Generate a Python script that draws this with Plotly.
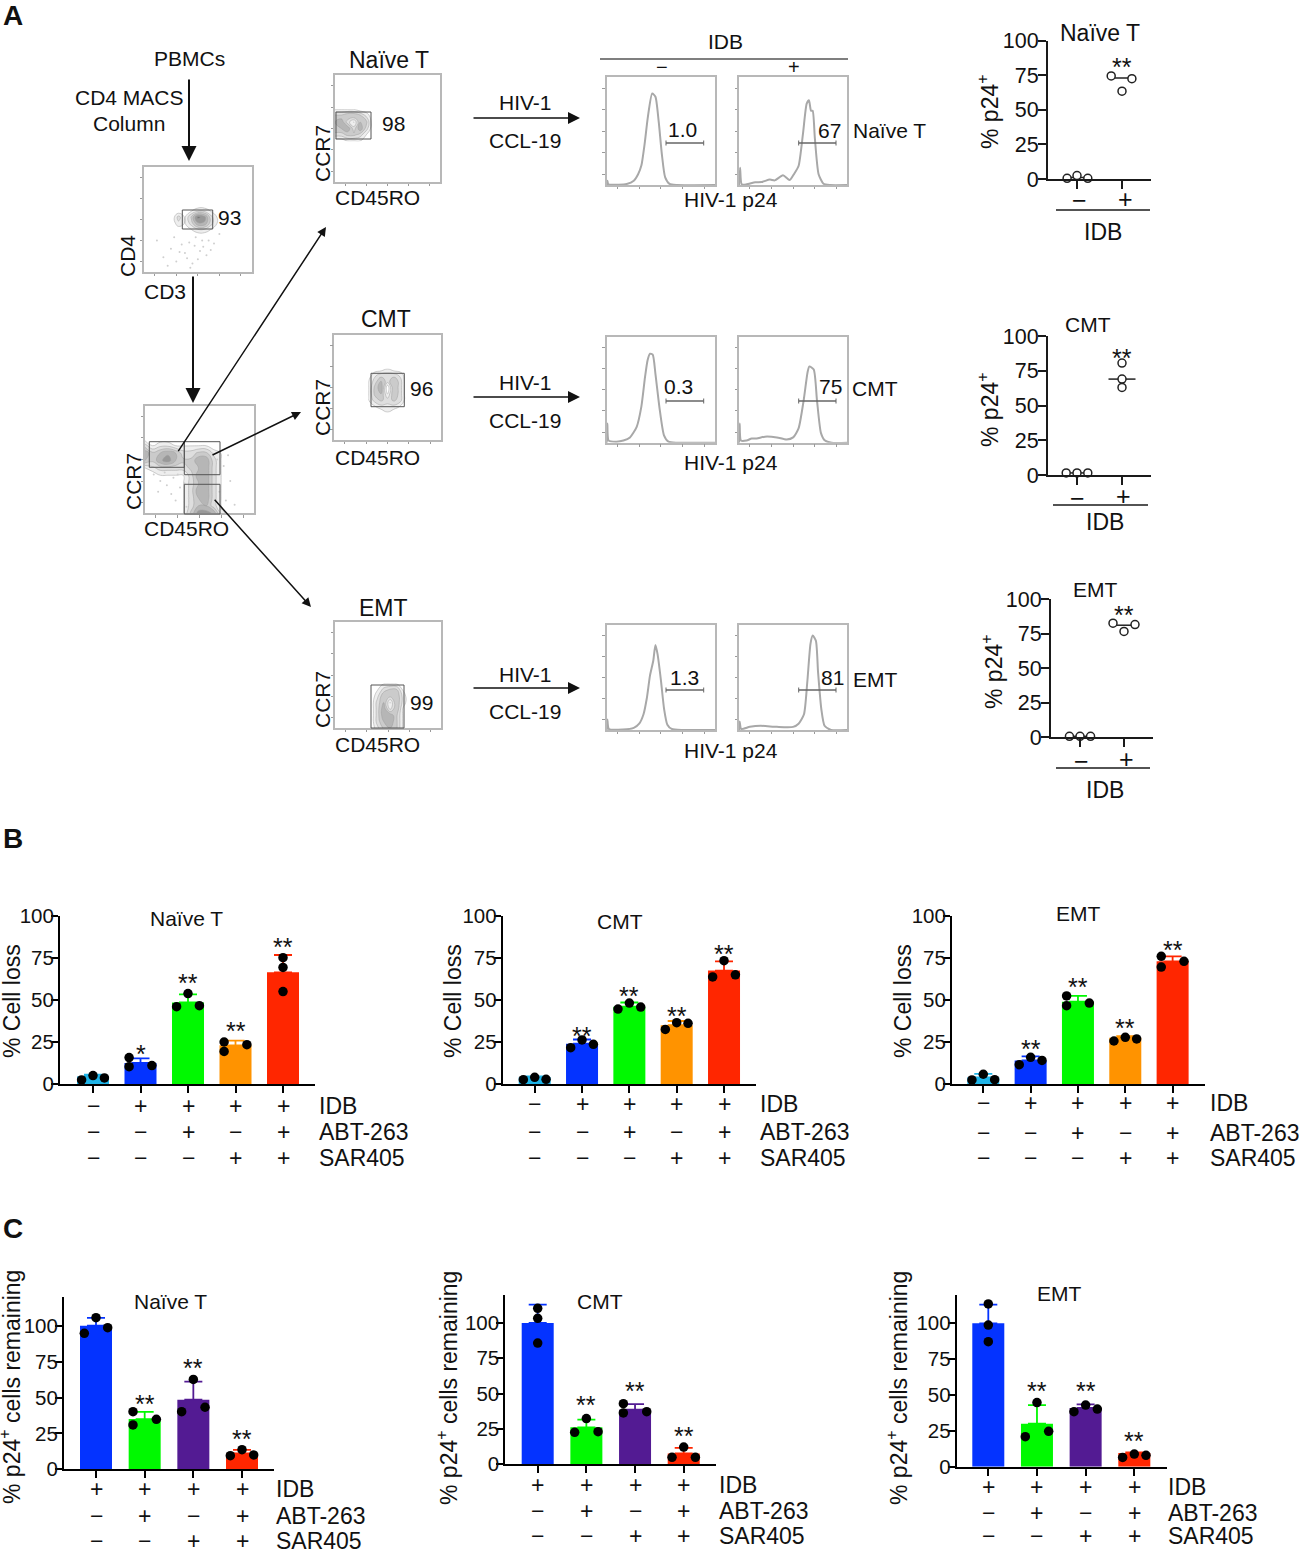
import plotly.graph_objects as go

FIG_W = 1299
FIG_H = 1549
FONT = "Liberation Sans, Arial, sans-serif"

# --- panel A: density plots (grey level on a small grid, % of the plot box)
cd4_x = [20, 26, 32, 38, 44, 50, 56, 62, 68, 74]
cd4_y = [34, 40, 46, 52, 58, 64]
cd4_z = [
    [0, 0, 0, 0, 0, 0, 0, 0, 0, 0],
    [0, 0, 0, 0, 1, 2, 2, 1, 0, 0],
    [0, 0, 2, 1, 3, 6, 6, 3, 1, 0],
    [0, 0, 3, 1, 4, 8, 7, 3, 1, 0],
    [0, 0, 0, 0, 1, 2, 2, 1, 0, 0],
    [0, 0, 0, 0, 0, 0, 0, 0, 0, 0],
]
cd4_sparse_x = [12, 18, 25, 30, 38, 42, 50, 55, 60, 28, 45, 52, 65, 35, 58, 48, 22, 40, 62, 70, 33, 47, 54, 43]
cd4_sparse_y = [30, 14, 22, 10, 18, 28, 12, 24, 30, 33, 8, 20, 27, 26, 16, 33, 6, 13, 21, 36, 19, 25, 30, 4]

gating_x = [0, 7, 14, 21, 28, 35, 42, 49, 56, 63, 70, 77]
gating_y = [0, 7, 14, 21, 28, 35, 42, 49, 56, 63, 70]
gating_z = [
    [0, 0, 0, 0, 0, 1, 4, 7, 7, 6, 2, 0],
    [0, 0, 0, 0, 0, 1, 3, 5, 5, 3, 1, 0],
    [0, 0, 0, 0, 0, 1, 3, 5, 6, 3, 1, 0],
    [0, 0, 0, 0, 1, 1, 3, 6, 6, 3, 1, 0],
    [0, 0, 0, 1, 1, 1, 3, 5, 6, 3, 1, 0],
    [0, 0, 1, 1, 1, 1, 3, 6, 6, 3, 1, 0],
    [1, 2, 3, 3, 3, 3, 4, 5, 6, 3, 1, 0],
    [5, 4, 6, 7, 5, 4, 4, 6, 6, 3, 1, 0],
    [6, 4, 5, 6, 5, 3, 3, 4, 4, 2, 1, 0],
    [3, 1, 2, 2, 1, 1, 1, 1, 1, 0, 0, 0],
    [0, 0, 0, 0, 0, 0, 0, 0, 0, 0, 0, 0],
]
gating_sparse_x = [8, 14, 20, 26, 32, 12, 24, 36, 18, 30, 40, 66, 72, 78, 68, 74, 82, 64, 76, 70, 38, 28]
gating_sparse_y = [36, 30, 26, 33, 24, 20, 18, 28, 38, 36, 14, 50, 44, 30, 20, 12, 8, 36, 54, 4, 6, 12]

naive_x = [0, 6, 12, 18, 24, 30, 36]
naive_y = [38, 44, 50, 56, 62, 68]
naive_z = [
    [0, 0, 1, 1, 1, 0, 0],
    [3, 3, 4, 4, 3, 1, 0],
    [5, 5, 6, 3, 6, 3, 0],
    [5, 6, 3, 1, 5, 4, 0],
    [4, 4, 5, 5, 4, 2, 0],
    [1, 1, 1, 1, 0, 0, 0],
]
cmt_x = [32, 38, 44, 50, 56, 62, 68]
cmt_y = [26, 32, 38, 44, 50, 56, 62, 68]
cmt_z = [
    [0, 0, 0, 1, 0, 0, 0],
    [0, 1, 2, 2, 2, 1, 0],
    [1, 3, 4, 3, 4, 3, 0],
    [1, 4, 5, 1, 5, 3, 0],
    [1, 4, 6, 0, 5, 3, 0],
    [1, 3, 5, 3, 5, 3, 0],
    [0, 2, 3, 3, 3, 2, 0],
    [0, 0, 0, 1, 0, 0, 0],
]
emt_x = [34, 40, 46, 52, 58, 64, 70]
emt_y = [0, 6, 12, 18, 24, 30, 36, 42]
emt_z = [
    [0, 2, 4, 5, 4, 1, 0],
    [0, 3, 5, 6, 4, 1, 0],
    [0, 3, 6, 6, 4, 1, 0],
    [0, 3, 6, 2, 5, 1, 0],
    [0, 3, 5, 1, 5, 2, 0],
    [0, 2, 5, 4, 5, 2, 0],
    [0, 1, 3, 4, 4, 1, 0],
    [0, 0, 1, 1, 1, 0, 0],
]

# --- panel A: p24 histograms (% of the plot box)
hist_naive_neg_x = [0, 0.6, 1.5, 11, 18.5, 25, 29, 32, 35, 38, 42, 45, 48, 51, 54, 58, 65, 100]
hist_naive_neg_y = [0, 4, 0.6, 0.3, 1, 4, 10, 18, 38, 63, 85, 82, 59, 28, 7, 1, 0, 0]
hist_naive_pos_x = [0, 1, 2.5, 7, 15, 21, 28.5, 33, 40.6, 46.8, 51, 55, 59, 62.5, 64.6, 66.5, 68, 70, 73.5, 78, 84, 100]
hist_naive_pos_y = [0, 16, 0.6, 0.6, 2.5, 2.8, 5, 4.3, 9, 4.6, 10.5, 17.6, 47, 75.5, 78.6, 69, 69, 44, 10, 1.2, 0, 0]
hist_cmt_neg_x = [0, 0.6, 1.8, 9, 15.4, 21.5, 27.7, 32, 35.4, 37.8, 40, 42.5, 45, 49, 52.9, 57, 65, 100]
hist_cmt_neg_y = [0, 18, 2, 1, 2, 5, 15, 34, 62, 78, 84, 83, 65, 31, 7, 1, 0, 0]
hist_cmt_pos_x = [0, 0.6, 1.8, 7, 11.7, 16.3, 24, 35, 44, 50, 55, 59.7, 63.4, 65, 69, 72, 75.7, 79.4, 85.5, 100]
hist_cmt_pos_y = [0, 18, 2, 2, 4, 4, 5.7, 5, 3, 5, 13.5, 40, 67, 72, 69, 40, 9, 2, 0, 0]
hist_emt_neg_x = [0, 0.6, 2, 15, 25, 30, 34, 37, 40, 43, 45, 47, 50, 53, 56, 60, 70, 100]
hist_emt_neg_y = [0, 10, 1, 0.5, 2, 6, 15, 30, 52, 66, 81, 72, 48, 20, 5, 1, 0, 0]
hist_emt_pos_x = [0, 0.6, 2, 10, 20, 35, 50, 55, 60, 63, 66, 68, 71, 73, 76, 79, 85, 100]
hist_emt_pos_y = [0, 8, 1, 3, 4, 3, 3, 6, 15, 45, 82, 90, 85, 55, 20, 4, 0, 0]

# --- panel A: % p24+ dot plots
p24_naive_neg = [0.5, 2.5, 0.5]
p24_naive_pos = [74.5, 72.5, 63.5]
p24_naive_mean = [1, 73]
p24_cmt_neg = [1.5, 1.5, 1.5]
p24_cmt_pos = [80.5, 69, 63]
p24_cmt_mean = [1.5, 69]
p24_emt_neg = [0.5, 0.5, 0.5]
p24_emt_pos = [82.5, 81.5, 76.5]
p24_emt_mean = [0.5, 81]
p24_jitter = [-0.24, 0.0, 0.24]

# --- panels B and C: bars
loss_colors = ["#1FB4E8", "#0433FF", "#00F900", "#FF9300", "#FF2600"]
rem_colors = ["#0433FF", "#00F900", "#531B93", "#FF2600"]
loss_idb = ["−", "+", "+", "+", "+"]
loss_abt = ["−", "−", "+", "−", "+"]
loss_sar = ["−", "−", "−", "+", "+"]
rem_idb = ["+", "+", "+", "+"]
rem_abt = ["−", "+", "−", "+"]
rem_sar = ["−", "−", "+", "+"]

loss_naive_mean = [4.5, 12.5, 48.5, 23, 66.5]
loss_naive_top = [5.5, 15.3, 53.4, 25.8, 76.8]
loss_naive_dots = [[2.4, 5, 3.6], [15.7, 10.3, 11], [46, 53.8, 46.6], [25, 19.4, 23.4], [75.2, 69.4, 55]]
loss_naive_side = [[-1, 0, 1], [-1, -1, 1], [-1, 0, 1], [-1, -1, 1], [0, 0, 0]]
loss_naive_stars = ["", "*", "**", "**", "**"]
loss_naive_star_y = [0, 19, 61.5, 33, 82.7]

loss_cmt_mean = [4, 24, 46, 35, 67.5]
loss_cmt_top = [4.5, 26.5, 48.5, 37.5, 73]
loss_cmt_dots = [[2.6, 4, 2.8], [21.6, 26.2, 23.6], [44.6, 48.2, 45.8], [32.5, 36.5, 36.1], [63.7, 73.4, 65]]
loss_cmt_side = [[-1, 0, 1], [-1, 0, 1], [-1, 0, 1], [-1, 0, 1], [-1, 0, 1]]
loss_cmt_stars = ["", "**", "**", "**", "**"]
loss_cmt_star_y = [0, 30, 53.4, 41.7, 78.4]

loss_emt_mean = [4, 14, 49, 27.5, 73]
loss_emt_top = [6, 16.5, 52.5, 28.5, 76]
loss_emt_dots = [[2.4, 5.8, 2.6], [11.5, 15.9, 14], [52.4, 46.6, 48.2], [25.6, 27.8, 26.8], [76, 69.6, 73]]
loss_emt_side = [[-1, 0, 1], [-1, 0, 1], [-1, -1, 1], [-1, 0, 1], [-1, -1, 1]]
loss_emt_stars = ["", "**", "**", "**", "**"]
loss_emt_star_y = [0, 21.8, 59, 34.5, 81]

rem_naive_mean = [100, 35, 48.5, 11]
rem_naive_top = [105.5, 40, 61, 13.5]
rem_naive_dots = [[94.7, 105.6, 98.6], [30.9, 40.1, 34.8], [40.1, 62.6, 43.2], [9.5, 13.7, 10]]
rem_naive_side = [[-1, 0, 1], [-1, -1, 1], [-1, 0, 1], [-1, 0, 1]]
rem_naive_stars = ["", "**", "**", "**"]
rem_naive_star_y = [0, 47, 72, 22.3]

rem_cmt_mean = [100, 26, 38.5, 7.5]
rem_cmt_top = [113, 31.5, 42.5, 11.5]
rem_cmt_dots = [[110.4, 103.3, 85.8], [22.5, 32.2, 22.9], [42.8, 36.2, 37.1], [4.7, 12, 4.7]]
rem_cmt_side = [[0, 0, 0], [-1, 0, 1], [-1, -1, 1], [-1, 0, 1]]
rem_cmt_stars = ["", "**", "**", "**"]
rem_cmt_star_y = [0, 43, 53, 21]

rem_emt_mean = [100, 30, 41, 9.5]
rem_emt_top = [113, 43, 43.5, 10]
rem_emt_dots = [[113.5, 98.8, 87.2], [20.9, 44.7, 24.7], [38.4, 43, 40.2], [6.5, 8.8, 7.9]]
rem_emt_side = [[0, 0, 0], [-1, 0, 1], [-1, 0, 1], [-1, 0, 1]]
rem_emt_stars = ["", "**", "**", "**"]
rem_emt_star_y = [0, 54, 54, 19]

GREYS = [[0, "#ffffff"], [0.12, "#f2f2f2"], [0.4, "#d8d8d8"], [0.75, "#acacac"], [1, "#747474"]]
AXIS_INK = "#1a1a1a"
FLOW_EDGE = "#b8b8b8"

fig = go.Figure()
axis_count = 1


def px_x(px):
    return px / FIG_W


def px_y(py):
    return 1 - py / FIG_H


def label(px, py, text, size=21, angle=0, anchor="center", bold=False):
    fig.add_annotation(
        x=px_x(px), y=px_y(py), xref="paper", yref="paper", text=f"<b>{text}</b>" if bold else text,
        showarrow=False, xanchor=anchor, yanchor="middle", textangle=angle,
        font=dict(family=FONT, size=size, color="#111111"),
    )


def arrow(x0, y0, x1, y1, width=1.5, size=1.2):
    fig.add_annotation(
        x=px_x(x1), y=px_y(y1), xref="paper", yref="paper", ax=x0 - x1, ay=y0 - y1,
        text="", showarrow=True, arrowhead=2, arrowsize=size, arrowwidth=width,
        arrowcolor="#111111", standoff=0,
    )


def rule(x0, y0, x1, y1, color="#1a1a1a", width=1.5):
    fig.add_shape(
        type="line", xref="paper", yref="paper", x0=px_x(x0), y0=px_y(y0), x1=px_x(x1), y1=px_y(y1),
        line=dict(color=color, width=width),
    )


def gate(x0, y0, x1, y1):
    fig.add_shape(
        type="rect", xref="paper", yref="paper", x0=px_x(x0), y0=px_y(y0), x1=px_x(x1), y1=px_y(y1),
        line=dict(color="#555555", width=1),
    )


def new_axes(left, right, top, bottom, xrange, yrange, xopts, yopts):
    global axis_count
    axis_count += 1
    n = axis_count
    fig.layout[f"xaxis{n}"] = dict(
        domain=[px_x(left), px_x(right)], range=xrange, anchor=f"y{n}", showgrid=False, zeroline=False, **xopts
    )
    fig.layout[f"yaxis{n}"] = dict(
        domain=[px_y(bottom), px_y(top)], range=yrange, anchor=f"x{n}", showgrid=False, zeroline=False, **yopts
    )
    return f"x{n}", f"y{n}"


def flow_axes(left, right, top, bottom):
    opts = dict(
        showline=True, mirror=True, linecolor=FLOW_EDGE, linewidth=1.5, ticks="outside", ticklen=2.5,
        tickcolor="#9a9a9a", tickwidth=1, showticklabels=False, dtick=20, tick0=10,
    )
    return new_axes(left, right, top, bottom, [0, 100], [0, 100], opts, opts)


def density_plot(box, grid_x, grid_y, grid_z, sparse_x=None, sparse_y=None):
    xa, ya = flow_axes(*box)
    if sparse_x:
        fig.add_trace(go.Scatter(
            x=sparse_x, y=sparse_y, xaxis=xa, yaxis=ya, mode="markers", hoverinfo="skip",
            marker=dict(size=2, color="#cfcfcf"),
        ))
    fig.add_trace(go.Contour(
        x=grid_x, y=grid_y, z=grid_z, xaxis=xa, yaxis=ya, zmin=0, zmax=9,
        contours=dict(coloring="fill", start=1.1, end=8, size=1.3),
        line=dict(color="#9e9e9e", width=0.5, smoothing=1.3),
        colorscale=GREYS, showscale=False, hoverinfo="skip",
    ))


def histogram_plot(box, hist_x, hist_y):
    xa, ya = flow_axes(*box)
    fig.add_trace(go.Scatter(
        x=hist_x, y=hist_y, xaxis=xa, yaxis=ya, mode="lines", hoverinfo="skip",
        line=dict(color="#a8a8a8", width=2, shape="spline", smoothing=0.6),
    ))


def dot_plot(left, right, y100, y0, c0, step, neg, pos, jitter_neg, jitter_pos, mean, stars_y):
    ticks = dict(
        showline=True, linecolor=AXIS_INK, linewidth=2, ticks="outside", ticklen=8, tickwidth=2,
        tickcolor=AXIS_INK, tickfont=dict(family=FONT, size=21.5, color="#111111"), ticklabelstandoff=-5,
    )
    xa, ya = new_axes(
        left, right, y100, y0, [(left - c0) / step, (right - c0) / step], [0, 100],
        dict(tickvals=[0, 1], showticklabels=False, **ticks), dict(tickvals=[0, 25, 50, 75, 100], **ticks),
    )
    for i, half in enumerate([0.3, 0.3]):
        fig.add_trace(go.Scatter(
            x=[i - half, i + half], y=[mean[i], mean[i]], xaxis=xa, yaxis=ya, mode="lines",
            line=dict(color="#222222", width=1.5), hoverinfo="skip", cliponaxis=False,
        ))
    fig.add_trace(go.Scatter(
        x=[j for j in jitter_neg] + [1 + j for j in jitter_pos], y=neg + pos, xaxis=xa, yaxis=ya,
        mode="markers", cliponaxis=False, hoverinfo="skip",
        marker=dict(size=8, color="#ffffff", line=dict(color="#222222", width=1.5)),
    ))
    fig.add_annotation(
        x=1, y=stars_y, xref=xa, yref=ya, text="**", showarrow=False, yshift=-3,
        font=dict(family=FONT, size=25, color="#111111"),
    )


def bar_panel(left, right, y100, y0, centre0, step, top_value, means, tops, dots, sides, stars, stars_y, colors):
    top_px = y0 - top_value * (y0 - y100) / 100
    ticks = dict(
        showline=True, linecolor="#000000", linewidth=2, ticks="outside", ticklen=7, tickwidth=2,
        tickcolor="#000000", tickfont=dict(family=FONT, size=20.5, color="#111111"), ticklabelstandoff=-7,
    )
    xa, ya = new_axes(
        left, right, top_px, y0, [(left - centre0) / step, (right - centre0) / step], [0, top_value],
        dict(tickvals=list(range(len(means))), showticklabels=False, **ticks),
        dict(tickvals=[0, 25, 50, 75, 100], **ticks),
    )
    for i, m in enumerate(means):
        fig.add_trace(go.Bar(
            x=[i], y=[m], xaxis=xa, yaxis=ya, width=32 / step, marker=dict(color=colors[i], line=dict(width=0)),
            hoverinfo="skip",
            error_y=dict(type="data", array=[tops[i] - m], symmetric=False, arrayminus=[0], color=colors[i], width=9, thickness=1.8),
        ))
        fig.add_trace(go.Scatter(
            x=[i + 0.24 * s for s in sides[i]], y=dots[i], xaxis=xa, yaxis=ya, mode="markers",
            cliponaxis=False, hoverinfo="skip", marker=dict(size=9.5, color="#000000"),
        ))
        if stars[i]:
            fig.add_annotation(
                x=i, y=stars_y[i], xref=xa, yref=ya, text=stars[i], showarrow=False, yshift=-2,
                font=dict(family=FONT, size=25, color="#111111"),
            )
    return xa


def sign_rows(xa, rows_px, signs, names, name_x):
    for row_y, row_signs, name in zip(rows_px, signs, names):
        for i, s in enumerate(row_signs):
            fig.add_annotation(
                x=i, y=px_y(row_y), xref=xa, yref="paper", text=s, showarrow=False, yanchor="middle",
                font=dict(family=FONT, size=23, color="#111111"),
            )
        label(name_x, row_y, name, size=23, anchor="left")


# panel letters
label(1, 15, "A", size=28, anchor="left", bold=True)
label(1, 838, "B", size=28, anchor="left", bold=True)
label(1, 1228, "C", size=28, anchor="left", bold=True)

# gating tree
label(189, 58, "PBMCs")
label(129, 97, "CD4 MACS")
label(129, 123, "Column")
arrow(189, 78, 189, 161, width=2, size=1.5)
density_plot((144, 251.7, 166.7, 272), cd4_x, cd4_y, cd4_z, cd4_sparse_x, cd4_sparse_y)
gate(182.3, 210, 212.7, 229)
label(229, 218, "93")
label(127, 256, "CD4", angle=-90)
label(165, 292, "CD3")
arrow(193, 275, 193, 403, width=2, size=1.5)

density_plot((145, 254.3, 405.7, 513.3), gating_x, gating_y, gating_z, gating_sparse_x, gating_sparse_y)
gate(149.3, 441.7, 184.3, 467.3)
gate(184.3, 441.7, 220, 474.7)
gate(184.3, 484.3, 220, 514)
label(133, 482, "CCR7", angle=-90)
label(187, 528, "CD45RO")
arrow(177.3, 452.7, 326, 227)
arrow(211, 455.7, 301, 412)
arrow(213.3, 498.3, 311, 607)

density_plot((335, 440, 75, 182), naive_x, naive_y, naive_z)
gate(336, 112, 371, 139)
label(389, 60, "Naïve T", size=23)
label(322, 154, "CCR7", angle=-90)
label(377, 197, "CD45RO")
label(393, 124, "98")

density_plot((334.3, 440.7, 335, 440), cmt_x, cmt_y, cmt_z)
gate(371, 373.3, 404.3, 406.7)
label(386, 319, "CMT", size=23)
label(322, 408, "CCR7", angle=-90)
label(377, 457, "CD45RO")
label(421, 389, "96")

density_plot((335, 441, 622, 728), emt_x, emt_y, emt_z)
gate(371, 685, 404, 728)
label(383, 608, "EMT", size=23)
label(322, 700, "CCR7", angle=-90)
label(377, 745, "CD45RO")
label(421, 703, "99")

for row_hiv, row_ccl, row_arrow in [(103, 141, 118), (382, 420, 397), (674, 712, 688)]:
    label(525, row_hiv, "HIV-1")
    label(525, row_ccl, "CCL-19")
    arrow(472, row_arrow, 580, row_arrow, width=1.5, size=1.6)

# histograms
label(725, 41, "IDB")
rule(600, 59, 848, 59, color="#555555", width=1.5)
label(662, 67, "−", size=20)
label(794, 67, "+", size=20)
histogram_plot((606.7, 715, 77.3, 185), hist_naive_neg_x, hist_naive_neg_y)
histogram_plot((739, 847.3, 77.3, 185), hist_naive_pos_x, hist_naive_pos_y)
histogram_plot((606.7, 715, 336.7, 442.7), hist_cmt_neg_x, hist_cmt_neg_y)
histogram_plot((739, 847.3, 336.7, 442.7), hist_cmt_pos_x, hist_cmt_pos_y)
histogram_plot((606.7, 715, 625, 730), hist_emt_neg_x, hist_emt_neg_y)
histogram_plot((739, 847.3, 625, 730), hist_emt_pos_x, hist_emt_pos_y)
for y_gate, y_axis_label in [(143, 200), (401, 462), (690, 750)]:
    rule(666, y_gate, 703.7, y_gate, color="#666666", width=1.5)
    rule(798.7, y_gate, 836, y_gate, color="#666666", width=1.5)
    for x_end in (666, 703.7, 798.7, 836):
        rule(x_end, y_gate - 2.5, x_end, y_gate + 2.5, color="#666666", width=1)
    label(731, y_axis_label, "HIV-1 p24")
label(683, 129, "1.0")
label(829.3, 131, "67")
label(889.5, 131, "Naïve T")
label(678.7, 386, "0.3")
label(830, 386, "75")
label(875, 388, "CMT")
label(684, 677, "1.3")
label(832, 677, "81")
label(875, 679, "EMT")

# % p24+ dots
dot_plot(1048, 1151, 40.7, 179, 1077, 45, p24_naive_neg, p24_naive_pos, [-0.22, 0, 0.24], [-0.24, 0.22, 0], p24_naive_mean, 83)
label(1100, 33, "Naïve T", size=23)
label(988, 112, "% p24<sup>+</sup>", size=23, angle=-90)
rule(1056, 210, 1150, 210)
label(1079, 200, "−", size=25)
label(1125, 199, "+", size=25)
label(1103, 232, "IDB", size=23)

dot_plot(1048, 1151, 336, 475, 1077, 45, p24_cmt_neg, p24_cmt_pos, p24_jitter, [0, 0, 0], p24_cmt_mean, 86)
label(1088, 325, "CMT")
label(988, 410, "% p24<sup>+</sup>", size=23, angle=-90)
rule(1053, 505, 1148, 505)
label(1077, 498, "−", size=25)
label(1123, 496, "+", size=25)
label(1105, 522, "IDB", size=23)

dot_plot(1051, 1153, 599, 737, 1080, 44, p24_emt_neg, p24_emt_pos, p24_jitter, [-0.25, 0.25, 0], p24_emt_mean, 90.6)
label(1095, 589, "EMT")
label(992, 672, "% p24<sup>+</sup>", size=23, angle=-90)
rule(1056, 768, 1150, 768)
label(1081, 761, "−", size=25)
label(1126, 759, "+", size=25)
label(1105, 790, "IDB", size=23)

# % cell loss bars
loss_names = ["IDB", "ABT-263", "SAR405"]
xa = bar_panel(60, 315, 916, 1084, 93, 47.5, 100, loss_naive_mean, loss_naive_top, loss_naive_dots, loss_naive_side, loss_naive_stars, loss_naive_star_y, loss_colors)
sign_rows(xa, [1106, 1132, 1158], [loss_idb, loss_abt, loss_sar], loss_names, 317)
label(187, 918, "Naïve T")
label(12, 1001, "% Cell loss", size=23, angle=-90)

xa = bar_panel(502.7, 756, 916, 1084, 534.7, 47.33, 100, loss_cmt_mean, loss_cmt_top, loss_cmt_dots, loss_cmt_side, loss_cmt_stars, loss_cmt_star_y, loss_colors)
sign_rows(xa, [1104, 1132, 1158], [loss_idb, loss_abt, loss_sar], loss_names, 758)
label(620, 921, "CMT")
label(453, 1001, "% Cell loss", size=23, angle=-90)

xa = bar_panel(952, 1205, 916, 1084, 983.3, 47.33, 100, loss_emt_mean, loss_emt_top, loss_emt_dots, loss_emt_side, loss_emt_stars, loss_emt_star_y, loss_colors)
sign_rows(xa, [1103, 1133, 1158], [loss_idb, loss_abt, loss_sar], loss_names, 1208)
label(1078, 913, "EMT")
label(903, 1001, "% Cell loss", size=23, angle=-90)

# % p24+ remaining bars
xa = bar_panel(64, 274, 1325.7, 1469.3, 96, 48.67, 120, rem_naive_mean, rem_naive_top, rem_naive_dots, rem_naive_side, rem_naive_stars, rem_naive_star_y, rem_colors)
sign_rows(xa, [1489, 1516, 1541], [rem_idb, rem_abt, rem_sar], loss_names, 274)
label(170, 1301, "Naïve T")
label(10, 1387, "% p24<sup>+</sup> cells remaining", size=23, angle=-90)

xa = bar_panel(505.3, 716, 1323, 1464, 537.7, 48.67, 120, rem_cmt_mean, rem_cmt_top, rem_cmt_dots, rem_cmt_side, rem_cmt_stars, rem_cmt_star_y, rem_colors)
sign_rows(xa, [1485, 1511, 1536], [rem_idb, rem_abt, rem_sar], loss_names, 716.7)
label(600, 1301.7, "CMT")
label(447, 1388, "% p24<sup>+</sup> cells remaining", size=23, angle=-90)

xa = bar_panel(956.7, 1166.7, 1323.3, 1466.7, 988.3, 48.67, 120, rem_emt_mean, rem_emt_top, rem_emt_dots, rem_emt_side, rem_emt_stars, rem_emt_star_y, rem_colors)
sign_rows(xa, [1487, 1513, 1536], [rem_idb, rem_abt, rem_sar], loss_names, 1166)
label(1059, 1293, "EMT")
label(897, 1388, "% p24<sup>+</sup> cells remaining", size=23, angle=-90)

fig.update_layout(
    width=FIG_W, height=FIG_H, autosize=False, margin=dict(l=0, r=0, t=0, b=0, autoexpand=False),
    paper_bgcolor="white", plot_bgcolor="white", showlegend=False, barmode="overlay",
    font=dict(family=FONT, color="#111111"),
)

# the page's default 8px body margin would push the figure off the window
fig.write_html(
    "out.html",
    config=dict(displayModeBar=False),
    post_script="document.body.style.margin='0';document.body.style.overflow='hidden';",
)
